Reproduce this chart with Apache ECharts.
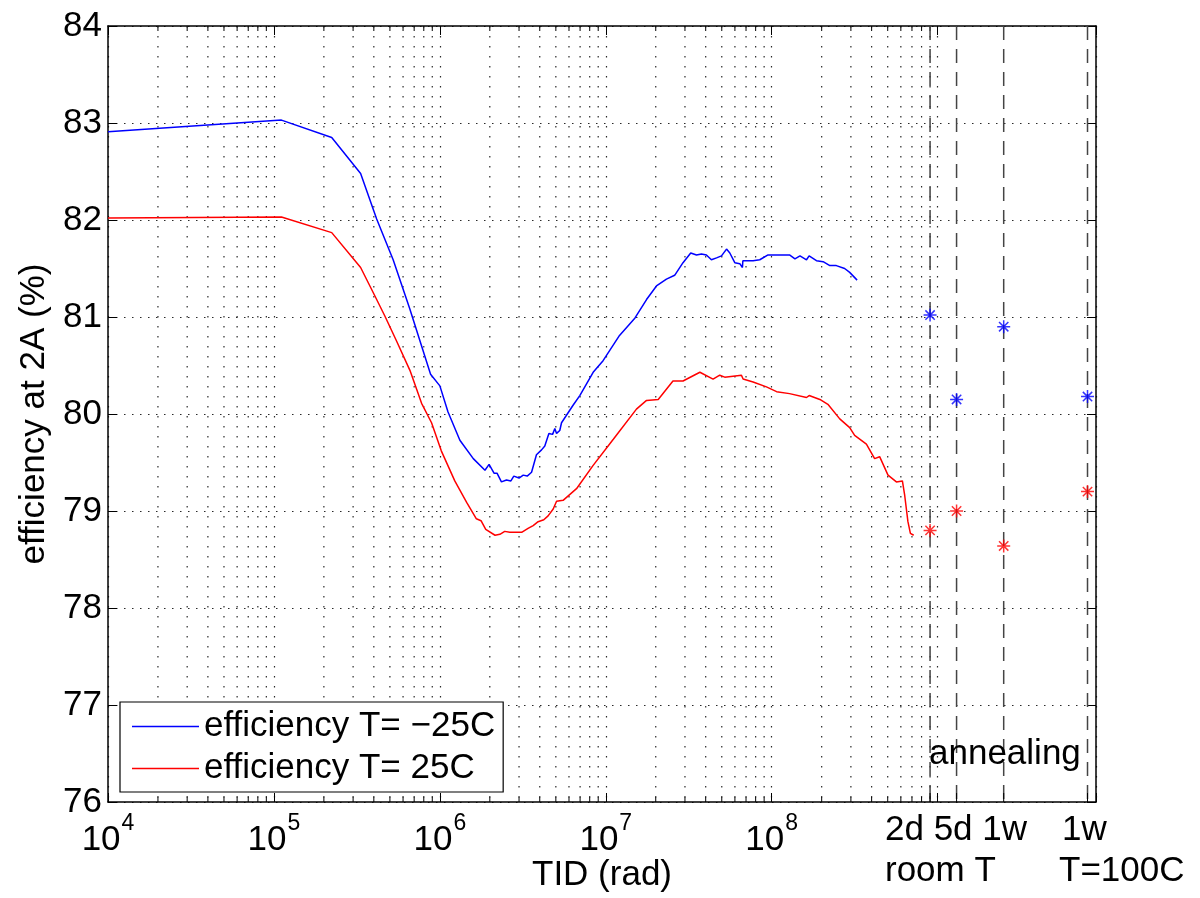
<!DOCTYPE html>
<html><head><meta charset="utf-8">
<script src="https://cdn.jsdelivr.net/npm/echarts@6/dist/echarts.min.js"></script>
<style>html,body{margin:0;padding:0;background:#fff}#c{width:1200px;height:898px}</style>
</head><body><div id="c"></div>
<script>
// ---- data ----
const tidBlue = [1e4, 1.11e5, 2.23e5, 3.33e5, 4.16e5, 5.23e5, 6.60e5, 7.76e5, 8.79e5, 1.00e6,
  1.12e6, 1.32e6, 1.59e6, 1.87e6, 1.98e6, 2.12e6, 2.21e6, 2.35e6, 2.52e6, 2.68e6,
  2.79e6, 3.00e6, 3.18e6, 3.36e6, 3.57e6, 3.82e6, 4.10e6, 4.29e6, 4.54e6, 4.78e6,
  4.93e6, 5.05e6, 5.28e6, 5.41e6, 6.35e6, 6.97e6, 8.39e6, 9.63e6, 1.21e7, 1.50e7,
  1.76e7, 2.02e7, 2.32e7, 2.60e7, 2.92e7, 3.25e7, 3.52e7, 3.77e7, 4.04e7, 4.33e7,
  4.65e7, 4.98e7, 5.34e7, 5.59e7, 5.99e7, 6.42e7, 6.66e7, 6.70e7, 7.72e7, 8.47e7,
  9.50e7, 1.12e8, 1.28e8, 1.38e8, 1.48e8, 1.62e8, 1.68e8, 1.86e8, 2.04e8, 2.24e8,
  2.45e8, 2.75e8, 2.95e8, 3.27e8];
const effBlue = [82.91, 83.03, 82.85, 82.48, 82.01, 81.59, 81.08, 80.70, 80.41, 80.29,
  80.02, 79.73, 79.54, 79.42, 79.48, 79.39, 79.39, 79.30, 79.32, 79.31,
  79.36, 79.34, 79.37, 79.36, 79.40, 79.58, 79.63, 79.67, 79.80, 79.79,
  79.85, 79.80, 79.83, 79.91, 80.09, 80.19, 80.43, 80.55, 80.81, 80.99,
  81.18, 81.32, 81.39, 81.43, 81.56, 81.66, 81.64, 81.65, 81.64, 81.59,
  81.61, 81.63, 81.70, 81.66, 81.56, 81.55, 81.51, 81.58, 81.58, 81.59,
  81.64, 81.64, 81.64, 81.60, 81.63, 81.59, 81.63, 81.58, 81.57, 81.53,
  81.53, 81.50, 81.46, 81.38];
const tidRed = [1e4, 1.11e5, 2.23e5, 3.33e5, 3.97e5, 4.66e5, 5.49e5, 6.60e5, 7.76e5, 8.91e5,
  1.02e6, 1.23e6, 1.45e6, 1.66e6, 1.77e6, 1.89e6, 2.15e6, 2.30e6, 2.46e6, 2.64e6,
  3.11e6, 3.40e6, 3.65e6, 3.91e6, 4.23e6, 4.49e6, 4.82e6, 5.05e6, 5.53e6, 6.66e6,
  8.39e6, 1.11e7, 1.53e7, 1.76e7, 2.07e7, 2.54e7, 2.92e7, 3.69e7, 4.43e7, 4.86e7,
  5.21e7, 5.85e7, 6.57e7, 6.72e7, 7.72e7, 9.29e7, 1.07e8, 1.28e8, 1.62e8, 1.68e8,
  1.95e8, 2.18e8, 2.57e8, 2.95e8, 3.16e8, 3.72e8, 4.17e8, 4.47e8, 5.02e8, 5.64e8,
  6.13e8, 6.33e8, 6.62e8, 6.85e8, 7.17e8];
const effRed = [82.02, 82.03, 81.87, 81.51, 81.25, 81.01, 80.75, 80.45, 80.11, 79.91,
  79.62, 79.31, 79.09, 78.92, 78.90, 78.81, 78.75, 78.76, 78.79, 78.78,
  78.78, 78.82, 78.85, 78.89, 78.91, 78.95, 79.02, 79.10, 79.11, 79.23,
  79.47, 79.74, 80.05, 80.14, 80.15, 80.34, 80.34, 80.43, 80.36, 80.40,
  80.38, 80.39, 80.40, 80.36, 80.33, 80.28, 80.23, 80.21, 80.17, 80.19,
  80.15, 80.10, 79.95, 79.86, 79.78, 79.69, 79.54, 79.56, 79.37, 79.30,
  79.31, 79.16, 78.89, 78.77, 78.75];
const annealTid = [9e8, 1.3e9, 2.5e9, 8e9];
const annealBlue = [81.02, 80.15, 80.90, 80.18];
const annealRed = [78.80, 79.00, 78.64, 79.20];
const seriesNames = ['efficiency T= \u221225C', 'efficiency T= 25C'];
const xMin = 1e4, xMax = 9e9;
const yMin = 76, yMax = 84;
const labelDecades = [4, 5, 6, 7, 8];
const minorDecades = [1e4, 1e5, 1e6, 1e7, 1e8];
const minorMult = [2, 3, 4, 5, 6, 7, 8, 9];
const xTitle = 'TID (rad)';
const yTitle = 'efficiency at 2A (%)';
const annealTitle = 'annealing';
const annealLabels = [['2d 5d 1w', 'room T'], ['1w', 'T=100C']];

// ---- chart ----
const FONT = '"Liberation Sans", Arial, Helvetica, sans-serif';
const FS = 35;
const minorTid = [];
minorDecades.forEach(d => minorMult.forEach(m => minorTid.push(d * m)));
const pair = (xs, ys) => xs.map((x, i) => [x, ys[i]]);
const dottedH = [1.5, 6.5];
const dottedV = [1.5, 8.5];
const gridColor = '#2a2a2a';

const chart = echarts.init(document.getElementById('c'), null, {renderer: 'canvas'});
const gridRect = {left: 108, top: 26, right: 104, bottom: 94};

function minorRender(params, api) {
  const x = api.value(0);
  const pb = api.coord([x, yMin]);
  const pt = api.coord([x, yMax]);
  return {type: 'group', children: [
    {type: 'line', shape: {x1: pb[0], y1: pt[1], x2: pb[0], y2: pb[1]},
     style: {stroke: gridColor, lineWidth: 1.2, lineDash: dottedV}},
    {type: 'line', shape: {x1: pb[0], y1: pb[1], x2: pb[0], y2: pb[1] - 5},
     style: {stroke: '#000', lineWidth: 1}},
    {type: 'line', shape: {x1: pb[0], y1: pt[1], x2: pb[0], y2: pt[1] + 5},
     style: {stroke: '#000', lineWidth: 1}}
  ]};
}
function annealRender(params, api) {
  const x = api.value(0);
  const pb = api.coord([x, yMin]);
  const pt = api.coord([x, yMax]);
  return {type: 'group', children: [
    {type: 'line', shape: {x1: pb[0], y1: pt[1], x2: pb[0], y2: pb[1]},
     style: {stroke: '#444', lineWidth: 1.5, lineDash: [14, 9]}},
    {type: 'line', shape: {x1: pb[0], y1: pb[1], x2: pb[0], y2: pb[1] - 9},
     style: {stroke: '#000', lineWidth: 1}}
  ]};
}
const star = 'path://M-1,0L1,0M0,-1L0,1M-0.72,-0.72L0.72,0.72M-0.72,0.72L0.72,-0.72';

const baseX = {
  type: 'log', logBase: 10, min: xMin, max: xMax,
  axisLine: {show: true, lineStyle: {color: '#000', width: 1.5}},
  axisTick: {show: true, inside: true, length: 9, lineStyle: {color: '#000'}},
};
const baseY = {
  type: 'value', min: yMin, max: yMax, interval: 1,
  axisLine: {show: true, lineStyle: {color: '#000', width: 1.5}},
  axisTick: {show: true, inside: true, length: 9, lineStyle: {color: '#000'}},
};

chart.setOption({
  animation: false,
  backgroundColor: '#fff',
  textStyle: {fontFamily: FONT},
  grid: gridRect,
  legend: {
    data: seriesNames,
    orient: 'vertical', left: 120, top: 702,
    backgroundColor: '#fff', borderColor: '#000', borderWidth: 1.2, borderRadius: 0,
    padding: [7, 8, 6, 12],
    icon: 'rect', itemWidth: 67, itemHeight: 1.5, itemGap: 7,
    textStyle: {fontSize: FS, fontFamily: FONT, color: '#000'},
    selectedMode: false, z: 20
  },
  xAxis: [
    Object.assign({}, baseX, {
      position: 'bottom',
      name: xTitle, nameLocation: 'middle', nameGap: 56, nameMoveOverlap: false,
      nameTextStyle: {fontSize: FS, fontFamily: FONT, color: '#000'},
      splitLine: {show: true, lineStyle: {color: gridColor, width: 1.2, type: dottedV}},
      axisLabel: {
        show: true, margin: 10, color: '#000',
        formatter: function (v) {
          const e = Math.log10(v);
          const r = Math.round(e);
          if (Math.abs(e - r) > 1e-6 || labelDecades.indexOf(r) < 0) return '';
          return '{b|10}{s|' + r + '}';
        },
        rich: {
          b: {fontSize: FS, fontFamily: FONT, color: '#000', verticalAlign: 'bottom', lineHeight: 46},
          s: {fontSize: 23, fontFamily: FONT, color: '#000', verticalAlign: 'top', lineHeight: 26, padding: [0, 0, 0, 1]}
        }
      }
    }),
    Object.assign({}, baseX, {
      position: 'top',
      splitLine: {show: false}, axisLabel: {show: false}
    })
  ],
  yAxis: [
    Object.assign({}, baseY, {
      position: 'left',
      name: yTitle, nameLocation: 'middle', nameGap: 56, nameRotate: 90, nameMoveOverlap: false,
      nameTextStyle: {fontSize: FS, fontFamily: FONT, color: '#000'},
      splitLine: {show: true, lineStyle: {color: gridColor, width: 1.2, type: dottedH}},
      axisLabel: {show: true, margin: 6, fontSize: FS, fontFamily: FONT, color: '#000'}
    }),
    Object.assign({}, baseY, {
      position: 'right',
      splitLine: {show: false}, axisLabel: {show: false}
    })
  ],
  graphic: [
    {type: 'text', x: 929, y: 754, z: 30, style: {text: annealTitle, fontSize: FS, fontFamily: FONT, fill: '#000', verticalAlign: 'middle'}},
    {type: 'text', x: 885, y: 830, style: {text: annealLabels[0][0], fontSize: FS, fontFamily: FONT, fill: '#000', verticalAlign: 'middle'}},
    {type: 'text', x: 885, y: 871, style: {text: annealLabels[0][1], fontSize: FS, fontFamily: FONT, fill: '#000', verticalAlign: 'middle'}},
    {type: 'text', x: 1062, y: 830, style: {text: annealLabels[1][0], fontSize: FS, fontFamily: FONT, fill: '#000', verticalAlign: 'middle'}},
    {type: 'text', x: 1059, y: 871, style: {text: annealLabels[1][1], fontSize: FS, fontFamily: FONT, fill: '#000', verticalAlign: 'middle'}}
  ],
  series: [
    {type: 'custom', name: 'minor', silent: true, z: 1, renderItem: minorRender,
     data: minorTid.map(v => [v, yMin])},
    {type: 'custom', name: 'annealLines', silent: true, z: 1, renderItem: annealRender,
     data: annealTid.map(v => [v, yMin])},
    {type: 'line', name: seriesNames[0], data: pair(tidBlue, effBlue), showSymbol: false, symbol: 'none',
     lineStyle: {color: '#0000ff', width: 1.5}, itemStyle: {color: '#0000ff'}, z: 5},
    {type: 'line', name: seriesNames[1], data: pair(tidRed, effRed), showSymbol: false, symbol: 'none',
     lineStyle: {color: '#ff0000', width: 1.5}, itemStyle: {color: '#ff0000'}, z: 5},
    {type: 'scatter', name: 'annealBlue', data: pair(annealTid, annealBlue), symbol: star, symbolSize: 13,
     itemStyle: {color: 'none', borderColor: '#0000ff', borderWidth: 1.5}, z: 6},
    {type: 'scatter', name: 'annealRed', data: pair(annealTid, annealRed), symbol: star, symbolSize: 13,
     itemStyle: {color: 'none', borderColor: '#ff0000', borderWidth: 1.5}, z: 6}
  ]
});
</script>
</body></html>
